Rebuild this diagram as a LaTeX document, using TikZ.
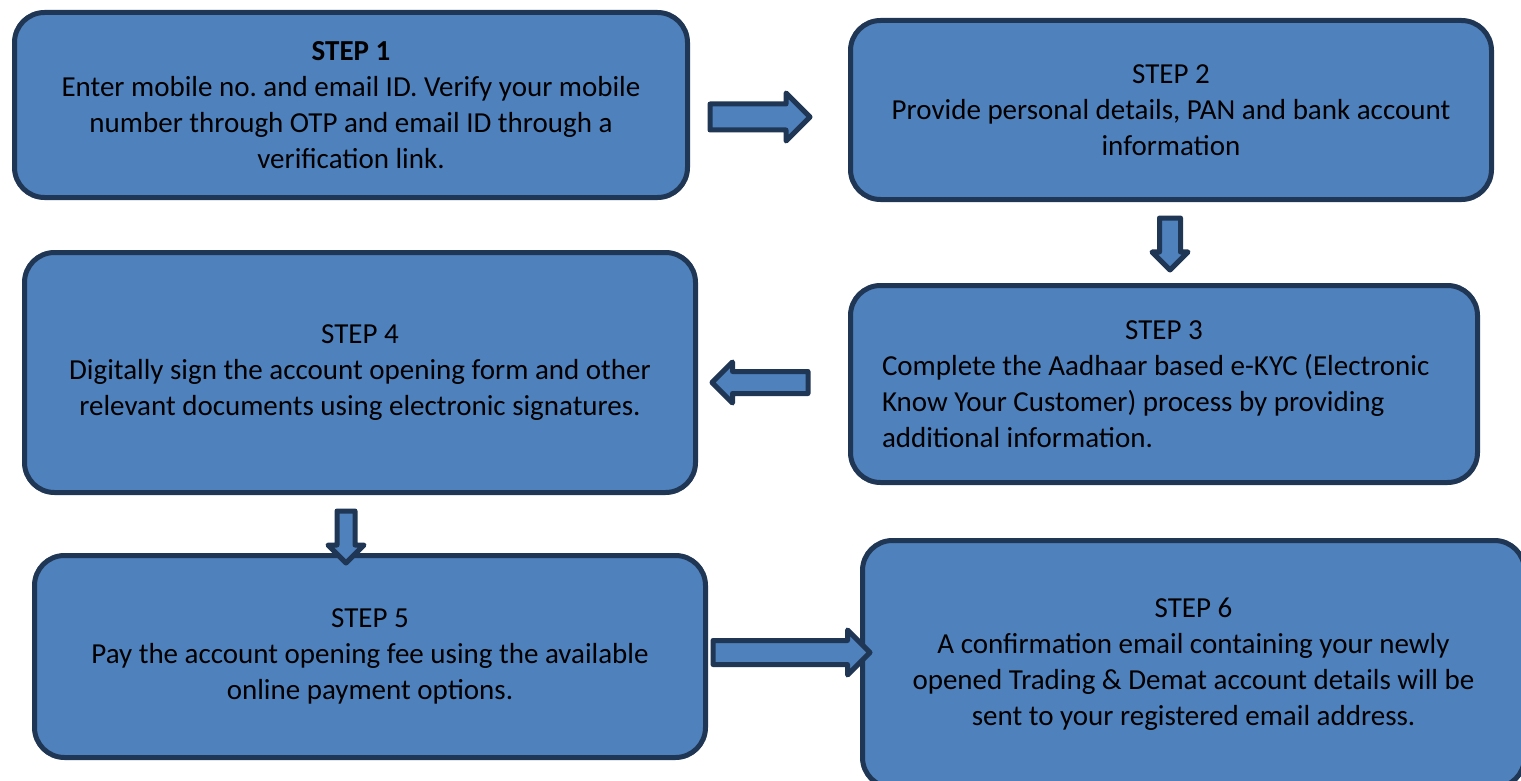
\documentclass[tikz,border=0pt]{standalone}
\usepackage{fontspec}
\setmainfont{Carlito}
\usetikzlibrary{shapes.arrows}

\definecolor{boxfill}{HTML}{4F81BD}
\definecolor{boxline}{HTML}{1F3654}

\newcommand{\stepline}[1]{\makebox[564pt][l]{#1}}

\begin{document}
\frenchspacing
\begin{tikzpicture}[x=1pt, y=-1pt,
    stepbox/.style={draw=boxline, fill=boxfill, line width=5pt, rounded corners=30pt,
        align=center, inner sep=0pt, font=\fontsize{29}{36}\selectfont},
    blockarrow/.style={single arrow, draw=boxline, fill=boxfill, line width=5pt,
        line join=round, inner xsep=0pt, single arrow tip angle=90,
        single arrow head indent=0pt, anchor=tail}]

    \fill[white] (0,0) rectangle (1521,781);
    \useasboundingbox (0,0) rectangle (1521,781);

    % steps
    \node[stepbox, minimum width=673pt, minimum height=185pt] (s1) at (351,105)
        {\textbf{STEP 1}\\Enter mobile no. and email ID. Verify your mobile\\number through OTP and email ID through a\\verification link.};
    \node[stepbox, minimum width=641pt, minimum height=179pt] (s2) at (1171,110)
        {STEP 2\\Provide personal details, PAN and bank account\\information};
    \node[stepbox, minimum width=627pt, minimum height=197pt] (s3) at (1164,384)
        {\makebox[564pt]{STEP 3}\\\stepline{Complete the Aadhaar based e-KYC (Electronic}\\\stepline{Know Your Customer) process by providing}\\\stepline{additional information.}};
    \node[stepbox, minimum width=671pt, minimum height=240pt] (s4) at (360,372.5)
        {STEP 4\\Digitally sign the account opening form and other\\relevant documents using electronic signatures.};
    \node[stepbox, minimum width=671pt, minimum height=202pt] (s5) at (370,656.5)
        {STEP 5\\Pay the account opening fee using the available\\online payment options.};
    \node[stepbox, minimum width=662pt, minimum height=247pt] (s6) at (1193.5,664)
        {STEP 6\\A confirmation email containing your newly\\opened Trading \& Demat account details will be\\sent to your registered email address.};

    % block arrows
    \node[blockarrow, minimum height=100pt, minimum width=43pt, inner ysep=10.5pt,
        single arrow head extend=11pt] (a12) at (707.5,117) {};
    \node[blockarrow, rotate=-90, minimum height=52pt, minimum width=31pt, inner ysep=8pt,
        single arrow head extend=7.5pt] (a23) at (1170,215.5) {};
    \node[blockarrow, rotate=180, minimum height=96pt, minimum width=36pt, inner ysep=8.5pt,
        single arrow head extend=9.5pt] (a34) at (810.5,382.5) {};
    \node[blockarrow, rotate=-90, minimum height=52pt, minimum width=31pt, inner ysep=6.5pt,
        single arrow head extend=9pt] (a45) at (346,508.5) {};
    \node[blockarrow, minimum height=157pt, minimum width=40pt, inner ysep=9.5pt,
        single arrow head extend=10.5pt] (a56) at (710.5,652.5) {};

\end{tikzpicture}
\end{document}
